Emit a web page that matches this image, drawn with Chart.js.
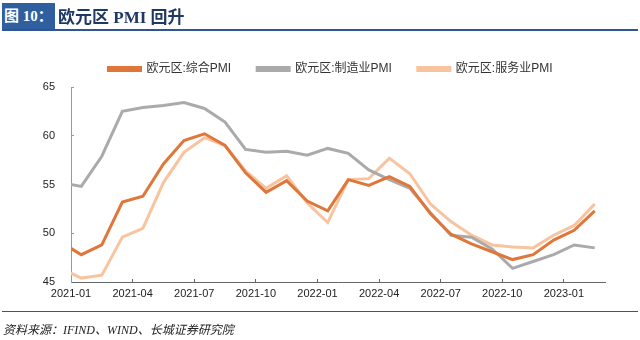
<!DOCTYPE html>
<html>
<head>
<meta charset="utf-8">
<script src="https://cdn.jsdelivr.net/npm/chart.js@4/dist/chart.umd.min.js"></script>
<style>
  html, body { margin: 0; padding: 0; background: #fff; }
  #wrap { position: relative; width: 640px; height: 340px; overflow: hidden; }
  #chart { position: absolute; left: 0; top: 0; }
  #titleBox {
    position: absolute; left: 2px; top: 3px; height: 26px; padding: 0 2px;
    background: #2f5f9e; color: #fff; white-space: nowrap;
    font: bold 15px "Liberation Serif", "Noto Sans CJK SC", serif; line-height: 26px;
  }
  #titleText {
    position: absolute; left: 58px; top: 3px; height: 26px; line-height: 26px; white-space: nowrap;
    color: #1f3864; font: bold 17px "Liberation Serif", "Noto Sans CJK SC", serif;
  }
  #titleRule { position: absolute; left: 2px; right: 2px; top: 29px; height: 2px; background: #2f5597; }
  #footRule { position: absolute; left: 2px; right: 2px; top: 311px; height: 1px; background: #44546a; }
  #source {
    position: absolute; left: 3px; top: 320px; white-space: nowrap;
    font: italic 12px "Liberation Serif", "Noto Sans CJK SC", serif; color: #222;
  }
</style>
</head>
<body>
<div id="wrap">
  <canvas id="chart" width="640" height="340"></canvas>
  <div id="titleBox">图 10：</div>
  <div id="titleText">欧元区 PMI 回升</div>
  <div id="titleRule"></div>
  <div id="footRule"></div>
  <div id="source">资料来源：IFIND、WIND、长城证券研究院</div>
</div>
<script>
// months, the first one sits half a month left of the axis and gets clipped
const months = [
  "2020-12",
  "2021-01", "2021-02", "2021-03", "2021-04", "2021-05", "2021-06",
  "2021-07", "2021-08", "2021-09", "2021-10", "2021-11", "2021-12",
  "2022-01", "2022-02", "2022-03", "2022-04", "2022-05", "2022-06",
  "2022-07", "2022-08", "2022-09", "2022-10", "2022-11", "2022-12",
  "2023-01", "2023-02",
];

const compositePmi = [
  49.1, 47.8, 48.8, 53.2, 53.8, 57.1, 59.5, 60.2, 59.0, 56.2, 54.2, 55.4, 53.3,
  52.3, 55.5, 54.9, 55.8, 54.8, 52.0, 49.9, 48.9, 48.1, 47.3, 47.8, 49.3, 50.3, 52.3,
];

const manufacturingPmi = [
  55.2, 54.8, 57.9, 62.5, 62.9, 63.1, 63.4, 62.8, 61.4, 58.6, 58.3, 58.4, 58.0,
  58.7, 58.2, 56.5, 55.5, 54.6, 52.1, 49.8, 49.6, 48.4, 46.4, 47.1, 47.8, 48.8, 48.5,
];

const servicesPmi = [
  46.4, 45.4, 45.7, 49.6, 50.5, 55.2, 58.3, 59.8, 59.0, 56.4, 54.6, 55.9, 53.1,
  51.1, 55.5, 55.6, 57.7, 56.1, 53.0, 51.2, 49.8, 48.8, 48.6, 48.5, 49.8, 50.8, 53.0,
];

const seriesNames = ["欧元区:综合PMI", "欧元区:制造业PMI", "欧元区:服务业PMI"];
const seriesColors = ["#e0763a", "#aaaaaa", "#f7c49f"];

const yTicks = [45, 50, 55, 60, 65];
const xTickMonths = ["2021-01", "2021-04", "2021-07", "2021-10", "2022-01", "2022-04", "2022-07", "2022-10", "2023-01"];

// a month is drawn at the middle of its month; month boundaries carry the tick labels
const toPoints = (values) => values.map((v, i) => ({ x: i - 0.5, y: v }));
const boundaryOf = (m) => months.indexOf(m) - 1;

const makeDataset = (i, values) => ({
  label: seriesNames[i],
  data: toPoints(values),
  borderColor: seriesColors[i],
  backgroundColor: seriesColors[i],
  borderWidth: 3,
  pointRadius: 0,
  tension: 0,
});

const family = "'Liberation Sans', 'Noto Sans CJK SC', sans-serif";

// a bit more room under the legend, and the legend sits right of centre like the original
const legendTweak = {
  id: "legendTweak",
  beforeInit(chart) {
    const fit = chart.legend.fit;
    chart.legend.fit = function () {
      fit.bind(chart.legend)();
      this.height += 2;
    };
  },
  afterLayout(chart) {
    chart.legend.left += 28;
    chart.legend.right += 28;
  },
};

// tick marks point into the plot (negative length)
const axisGrid = (color) => ({
  display: true,
  drawOnChartArea: false,
  drawTicks: true,
  tickLength: -3,
  tickColor: color,
});

new Chart(document.getElementById("chart"), {
  type: "line",
  data: {
    datasets: [
      makeDataset(0, compositePmi),
      makeDataset(1, manufacturingPmi),
      makeDataset(2, servicesPmi),
    ],
  },
  options: {
    responsive: false,
    animation: false,
    layout: { padding: { top: 37, left: 0, right: 35, bottom: 38 } },
    plugins: {
      tooltip: { enabled: false },
      legend: {
        position: "top",
        labels: {
          boxWidth: 32,
          boxHeight: 3,
          padding: 26,
          color: "#333",
          font: { family, size: 12 },
        },
      },
    },
    scales: {
      x: {
        type: "linear",
        min: 0,
        max: months.length - 1,
        grid: axisGrid("#666"),
        border: { color: "#666", width: 1 },
        afterBuildTicks(scale) {
          scale.ticks = xTickMonths.map((m) => ({ value: boundaryOf(m) }));
        },
        afterFit(scale) {
          scale.height = 20;
        },
        ticks: {
          autoSkip: false,
          maxRotation: 0,
          color: "#222",
          font: { family, size: 11 },
          padding: 8,
          callback: (v) => months[v + 1],
        },
      },
      y: {
        min: yTicks[0],
        max: yTicks[yTicks.length - 1],
        grid: axisGrid("#999"),
        border: { color: "#999", width: 1 },
        afterBuildTicks(scale) {
          scale.ticks = yTicks.map((v) => ({ value: v }));
        },
        afterFit(scale) {
          scale.width = 71;
        },
        ticks: { color: "#222", font: { family, size: 11 }, padding: 19 },
      },
    },
  },
  plugins: [legendTweak],
});
</script>
</body>
</html>
